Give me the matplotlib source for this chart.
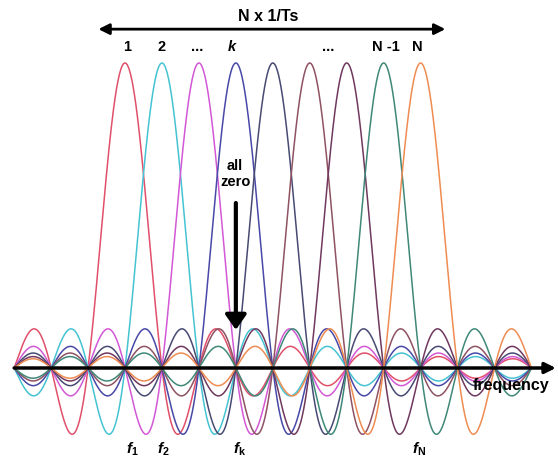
import numpy as np
import matplotlib
matplotlib.use('Agg')
import matplotlib.pyplot as plt

plt.rcParams['font.family'] = 'Liberation Sans'
plt.rcParams['mathtext.fontset'] = 'custom'
plt.rcParams['mathtext.it'] = 'Liberation Sans:italic:bold'
plt.rcParams['mathtext.rm'] = 'Liberation Sans:bold'
plt.rcParams['mathtext.bf'] = 'Liberation Sans:bold'

# subcarrier centres (in units of 1/Ts)
carriers = [0, 1, 2, 3, 4, 5, 6, 7, 8]
colors = ['#e0506a', '#45c3d2', '#d358d6', '#4848a8', '#474a72',
          '#8e5262', '#70385e', '#3f8878', '#ee8c52']
top_labels = ['1', '2', '...', 'k', '...', 'N -1', 'N']
top_label_pos = [0.05, 1.0, 1.95, 2.9, 5.5, 7.05, 7.9]
f_labels = [r'$f_1$', r'$f_2$', r'$f_{\mathrm{k}}$', r'$f_{\mathrm{N}}$']
f_label_pos = [0.19, 1.03, 3.11, 7.96]
span = (-3, 11)

fig = plt.figure(figsize=(5.58, 4.62), dpi=100)
ax = fig.add_axes([0, 0, 1, 1])
ax.set_xlim(-125 / 36.95, (558 - 125) / 36.95)
ax.set_ylim(-94 / 305, 368 / 305)
ax.axis('off')

u = np.linspace(span[0], span[1], 3000)
for c, col in zip(carriers, colors):
    ax.plot(u, np.sinc(u - c), color=col, lw=1.1)

# frequency axis
ax.annotate('', xy=(11.66, 0), xytext=(-3.0, 0),
            arrowprops=dict(arrowstyle='-|>', color='black', lw=2.5,
                            mutation_scale=16, shrinkA=0, shrinkB=0))
ax.text(9.42, -0.056, 'frequency', fontsize=11.5, fontweight='bold',
        ha='left', va='center')

# bandwidth arrow
ax.annotate('', xy=(8.67, 1.111), xytext=(-0.72, 1.111),
            arrowprops=dict(arrowstyle='<|-|>', color='black', lw=2,
                            mutation_scale=16, shrinkA=0, shrinkB=0))
ax.text(3.87, 1.152, 'N x 1/Ts', fontsize=11.5, fontweight='bold',
        ha='center', va='center')

for lab, pos in zip(top_labels, top_label_pos):
    style = 'italic' if lab == 'k' else 'normal'
    ax.text(pos, 1.053, lab, fontsize=10.5, fontweight='bold', style=style,
            ha='center', va='center')

for lab, pos in zip(f_labels, f_label_pos):
    ax.text(pos, -0.268, lab, fontsize=11, ha='center', va='center')

# all zero marker
ax.text(2.98, 0.636, 'all\nzero', fontsize=10.5, fontweight='bold',
        ha='center', va='center', linespacing=1.1)
ax.annotate('', xy=(3.0, 0.125), xytext=(3.0, 0.541),
            arrowprops=dict(arrowstyle='-|>,head_width=0.35,head_length=0.5',
                            color='black', lw=3,
                            mutation_scale=18, shrinkA=0, shrinkB=0))

fig.savefig('out.png', dpi=100)
